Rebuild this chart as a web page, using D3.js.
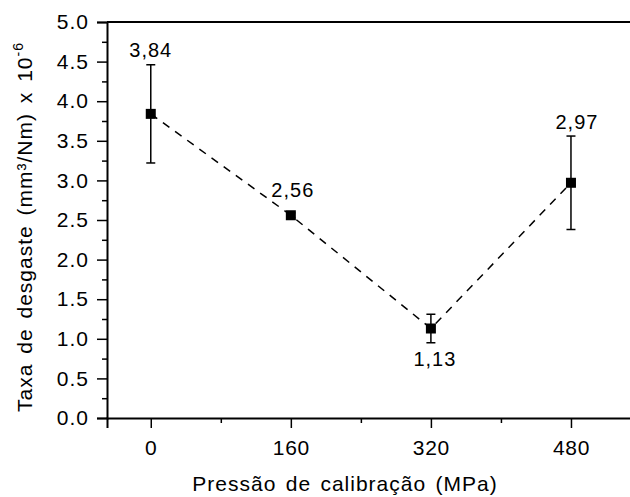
<!DOCTYPE html>
<html>
<head>
<meta charset="utf-8">
<script src="https://cdn.jsdelivr.net/npm/d3@7"></script>
<style>
  html, body { margin: 0; padding: 0; background: #fff; }
  svg { display: block; font-family: "Liberation Sans", Arial, sans-serif; }
</style>
</head>
<body>
<svg id="chart" width="630" height="497"></svg>
<script>
// Data
const pressures = [0, 160, 320, 480];
const wearRates = [3.84, 2.56, 1.13, 2.97];
const errors = [0.62, 0.03, 0.18, 0.59];
const valueLabels = ["3,84", "2,56", "1,13", "2,97"];
const xTicks = [0, 160, 320, 480];
const xMinorTicks = [80, 240, 400];
const yTicks = [0, 0.5, 1, 1.5, 2, 2.5, 3, 3.5, 4, 4.5, 5];
const yMinorTicks = [0.25, 0.75, 1.25, 1.75, 2.25, 2.75, 3.25, 3.75, 4.25, 4.75];

const svg = d3.select("#chart");
const plotLeft = 107, plotTop = 22, plotBottom = 418, plotRight = 641;

const x = d3.scaleLinear().domain([-50, 560]).range([plotLeft, plotRight]);
const y = d3.scaleLinear().domain([0, 5]).range([plotBottom, plotTop]);

const tickFont = "21px";
const fontFam = "Liberation Sans, Arial, sans-serif";

// Y axis
const yAxis = svg.append("g").attr("transform", `translate(${plotLeft},0)`)
  .call(d3.axisLeft(y).tickValues(yTicks).tickFormat(d3.format(".1f")).tickSize(10).tickPadding(8));
yAxis.select(".domain").attr("stroke-width", 2);
yAxis.selectAll(".tick line").attr("stroke-width", 1.5);
yAxis.selectAll("text").attr("font-size", tickFont).attr("font-family", fontFam)
  .attr("letter-spacing", "1px").attr("fill", "#000");
svg.append("g").attr("transform", `translate(${plotLeft},0)`)
  .call(d3.axisLeft(y).tickValues(yMinorTicks).tickFormat("").tickSize(5))
  .call(g => g.select(".domain").remove())
  .selectAll(".tick line").attr("stroke-width", 1.5);

// X axis
const xAxis = svg.append("g").attr("transform", `translate(0,${plotBottom})`)
  .call(d3.axisBottom(x).tickValues(xTicks).tickFormat(d3.format("d")).tickSize(10).tickPadding(12));
xAxis.select(".domain").attr("stroke-width", 2);
xAxis.selectAll(".tick line").attr("stroke-width", 1.5);
xAxis.selectAll("text").attr("font-size", tickFont).attr("font-family", fontFam)
  .attr("letter-spacing", "0.7px").attr("fill", "#000");
svg.append("g").attr("transform", `translate(0,${plotBottom})`)
  .call(d3.axisBottom(x).tickValues(xMinorTicks).tickFormat("").tickSize(5))
  .call(g => g.select(".domain").remove())
  .selectAll(".tick line").attr("stroke-width", 1.5);

// Top border
svg.append("line").attr("x1", x.range()[0]).attr("x2", x.range()[1])
  .attr("y1", y(5)).attr("y2", y(5)).attr("stroke", "#000").attr("stroke-width", 2);

// Dashed line
const line = d3.line().x((d, i) => x(pressures[i])).y(d => y(d));
svg.append("path").datum(wearRates).attr("d", line)
  .attr("fill", "none").attr("stroke", "#000").attr("stroke-width", 1.5)
  .attr("stroke-dasharray", "8,7");

// Error bars
const eb = svg.append("g").attr("stroke", "#000").attr("stroke-width", 1.5);
wearRates.forEach((v, i) => {
  const cx = x(pressures[i]);
  eb.append("line").attr("x1", cx).attr("x2", cx).attr("y1", y(v - errors[i])).attr("y2", y(v + errors[i]));
  [v - errors[i], v + errors[i]].forEach(e => {
    eb.append("line").attr("x1", cx - 4.5).attr("x2", cx + 4.5).attr("y1", y(e)).attr("y2", y(e));
  });
});

// Markers
svg.append("g").selectAll("rect").data(wearRates).join("rect")
  .attr("x", (d, i) => x(pressures[i]) - 5).attr("y", d => y(d) - 5)
  .attr("width", 10).attr("height", 10).attr("fill", "#000");

// Value labels
const labelPos = [
  { dx: 0, dy: () => y(wearRates[0] + errors[0]) - 8 },
  { dx: 2, dy: () => y(wearRates[1]) - 18 },
  { dx: 4, dy: () => y(wearRates[2] - errors[2]) + 23 },
  { dx: 6, dy: () => y(wearRates[3] + errors[3]) - 7 }
];
svg.append("g").selectAll("text").data(valueLabels).join("text")
  .attr("x", (d, i) => x(pressures[i]) + labelPos[i].dx)
  .attr("y", (d, i) => labelPos[i].dy())
  .attr("text-anchor", "middle").attr("font-size", "20px").attr("letter-spacing", "1px").attr("fill", "#000")
  .text(d => d);

// Axis titles
svg.append("text").attr("x", 345).attr("y", 491).attr("text-anchor", "middle")
  .attr("font-size", "21px").attr("letter-spacing", "1px").attr("word-spacing", "2.5px")
  .text("Pressão de calibração (MPa)");

const yt = svg.append("text").attr("transform", `translate(32,227) rotate(-90)`)
  .attr("text-anchor", "middle").attr("font-size", "21px").attr("letter-spacing", "1px").attr("word-spacing", "3px");
yt.append("tspan").text("Taxa de desgaste (mm³/Nm) x 10");
yt.append("tspan").attr("dy", -9).attr("font-size", "14px").text("-6");
</script>
</body>
</html>
